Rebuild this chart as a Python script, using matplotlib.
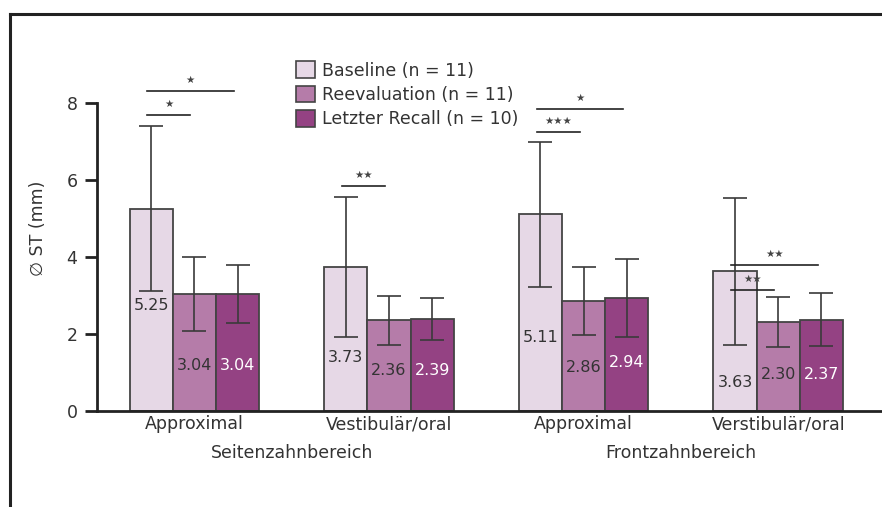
import numpy as np
import matplotlib
matplotlib.use("Agg")
import matplotlib.pyplot as plt
from matplotlib.lines import Line2D
from matplotlib.patches import Patch

# mean sulcus depth per site and time point
sites = ["Approximal", "Vestibulär/oral", "Approximal", "Verstibulär/oral"]
regions = ["Seitenzahnbereich", "Frontzahnbereich"]
series = ["Baseline (n = 11)", "Reevaluation (n = 11)", "Letzter Recall (n = 10)"]

baseline = [5.25, 3.73, 5.11, 3.63]
reevaluation = [3.04, 2.36, 2.86, 2.30]
recall = [3.04, 2.39, 2.94, 2.37]

baseline_sd = [2.14, 1.82, 1.89, 1.91]
reevaluation_sd = [0.95, 0.64, 0.88, 0.65]
recall_sd = [0.76, 0.55, 1.01, 0.69]

# significance: (site, from series, to series, stars)
signif = [
    (0, 0, 1, "★"),
    (0, 0, 2, "★"),
    (1, 0, 1, "★★"),
    (2, 0, 1, "★★★"),
    (2, 0, 2, "★"),
    (3, 0, 1, "★★"),
    (3, 0, 2, "★★"),
]

# vertical placement of the value labels and bracket lines
label_y = [[2.75, 1.17, 1.17], [1.38, 1.06, 1.04], [1.92, 1.14, 1.25], [0.75, 0.94, 0.94]]
bracket_y = [7.69, 8.31, 5.84, 7.25, 7.84, 3.14, 3.79]

colors = ["#e6d8e6", "#b57ca9", "#944283"]
text_colors = ["#333333", "#333333", "#ffffff"]
edge = "#444444"

plt.rcParams["font.family"] = ["DejaVu Sans"]

fig = plt.figure(figsize=(8.82, 5.07), dpi=100)
ax = fig.add_axes([97 / 882, 1 - 411 / 507, 785 / 882, (411 - 45.25) / 507])

x = np.arange(len(sites))
w = 0.222
values = [baseline, reevaluation, recall]
sds = [baseline_sd, reevaluation_sd, recall_sd]

for i in range(3):
    pos = x + (i - 1) * w
    ax.bar(pos, values[i], width=w, color=colors[i], edgecolor=edge,
           linewidth=1.3, zorder=2)
    ax.errorbar(pos, values[i], yerr=sds[i], fmt="none", ecolor="#3a3a3a",
                elinewidth=1.2, capsize=8.3, capthick=1.2, zorder=3)
    for j in range(len(sites)):
        ax.text(pos[j], label_y[j][i], f"{values[i][j]:.2f}", ha="center",
                va="center", fontsize=11.5, color=text_colors[i], zorder=4)

for (site, a, b, stars), yb in zip(signif, bracket_y):
    x0 = site + (a - 1) * w - 0.02
    x1 = site + (b - 1) * w - 0.02
    ax.plot([x0, x1], [yb, yb], color="#222222", lw=1.2, clip_on=False,
            zorder=5)
    ax.text((x0 + x1) / 2, yb + 0.16, stars, ha="center", va="bottom",
            fontsize=7.5, color="#444444", zorder=5)

ax.set_xlim(-0.5, 3.533)
ax.set_ylim(0, 9.5)
ax.set_yticks([0, 2, 4, 6, 8])
ax.set_xticks(x)
ax.set_xticklabels(sites, fontsize=12.5, color="#333333")
ax.tick_params(axis="x", length=0, pad=3)
ax.tick_params(axis="y", length=9, width=2, color="#222222", labelsize=12.5,
               labelcolor="#333333", pad=5)
for s in ["top", "right"]:
    ax.spines[s].set_visible(False)
ax.spines["left"].set_bounds(0, 8)
ax.spines["left"].set_linewidth(2)
ax.spines["left"].set_color("#222222")
ax.spines["bottom"].set_linewidth(2)
ax.spines["bottom"].set_color("#222222")
ax.set_ylabel("∅ ST (mm)", fontsize=12.5, color="#333333", labelpad=14)

for k, name in enumerate(regions):
    ax.text(2 * k + 0.5, -1.1, name, ha="center", va="center", fontsize=12.5,
            color="#333333")

handles = [Patch(facecolor=c, edgecolor=edge, linewidth=1.2) for c in colors]
ax.legend(handles, series, loc="upper left", bbox_to_anchor=(0.245, 0.975),
          frameon=False, fontsize=12.5, handlelength=1.1, handleheight=1.1,
          handletextpad=0.4, labelspacing=0.35, borderaxespad=0,
          labelcolor="#333333")

# outer frame: top and left rules
fig.add_artist(Line2D([10 / 882, 1], [1 - 14 / 507, 1 - 14 / 507],
                      color="#222222", lw=2.2, transform=fig.transFigure))
fig.add_artist(Line2D([10 / 882, 10 / 882], [0, 1 - 14 / 507],
                      color="#222222", lw=2.2, transform=fig.transFigure))

fig.savefig("out.png", dpi=100)
